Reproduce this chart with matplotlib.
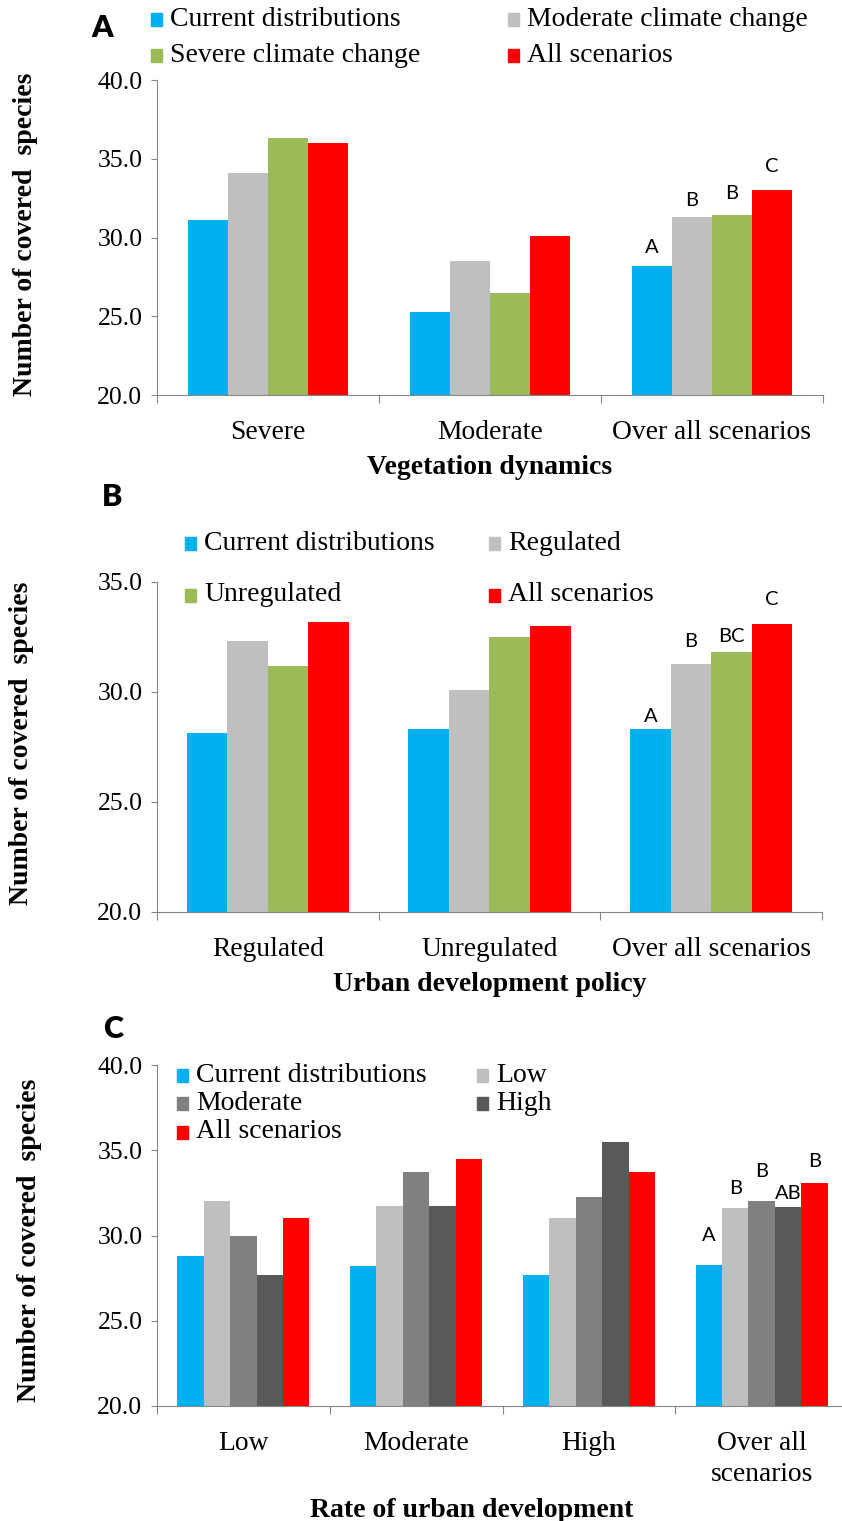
import numpy as np
import matplotlib
matplotlib.use("Agg")
import matplotlib.pyplot as plt
from matplotlib.patches import Rectangle
from matplotlib.ticker import FormatStrFormatter, MultipleLocator

# ---------- data ----------------------------------------------------------
veg_groups = ["Severe", "Moderate", "Over all scenarios"]
veg_series = ["Current distributions", "Moderate climate change",
              "Severe climate change", "All scenarios"]
veg_values = [
    [31.1, 25.3, 28.2],   # current distributions
    [34.1, 28.5, 31.3],   # moderate climate change
    [36.3, 26.5, 31.4],   # severe climate change
    [36.0, 30.1, 33.0],   # all scenarios
]
veg_letters = ["A", "B", "B", "C"]

policy_groups = ["Regulated", "Unregulated", "Over all scenarios"]
policy_series = ["Current distributions", "Regulated", "Unregulated",
                 "All scenarios"]
policy_values = [
    [28.15, 28.3, 28.3],
    [32.3, 30.1, 31.25],
    [31.2, 32.5, 31.8],
    [33.2, 33.0, 33.1],
]
policy_letters = ["A", "B", "BC", "C"]

rate_groups = ["Low", "Moderate", "High", "Over all\nscenarios"]
rate_series = ["Current distributions", "Low", "Moderate", "High",
               "All scenarios"]
rate_values = [
    [28.8, 28.2, 27.7, 28.25],
    [32.0, 31.75, 31.0, 31.6],
    [30.0, 33.75, 32.25, 32.0],
    [27.7, 31.75, 35.5, 31.65],
    [31.0, 34.5, 33.75, 33.1],
]
rate_letters = ["A", "B", "B", "AB", "B"]

# ---------- style / layout -------------------------------------------------
W, H = 842, 1521
SERIF = "Liberation Serif"
SANS = "Lato"
AXIS_GREY = "#868686"
col_veg = ["#00B0F0", "#BFBFBF", "#9BBB59", "#FF0000"]
col_rate = ["#00B0F0", "#BFBFBF", "#808080", "#595959", "#FF0000"]

plt.rcParams["font.family"] = [SERIF, "DejaVu Serif"]

fig = plt.figure(figsize=(W / 100, H / 100), dpi=100)


def px_axes(left, right, top, bottom):
    return fig.add_axes([left / W, 1 - bottom / H, (right - left) / W,
                         (bottom - top) / H])


def fig_pt(x, y):
    return x / W, 1 - y / H


def draw_panel(ax, groups, values, colors, bar_w, ylim, letters, letter_dy,
               ylabel, xlabel, xlabel_pos, ylabel_pos):
    n = len(values)
    x = np.arange(len(groups))
    for j, (vals, c) in enumerate(zip(values, colors)):
        ax.bar(x + (j - (n - 1) / 2) * bar_w, np.array(vals) - ylim[0],
               bottom=ylim[0], width=bar_w, color=c, edgecolor="none")
    # significance letters over the last group
    last = len(groups) - 1
    for j, (lab, dy) in enumerate(zip(letters, letter_dy)):
        ax.annotate(lab, (last + (j - (n - 1) / 2) * bar_w, values[j][last]),
                    xytext=(0, dy), textcoords="offset pixels",
                    ha="center", va="center", fontsize=14.5, family=SANS,
                    annotation_clip=False)
    ax.set_xlim(-0.5, len(groups) - 0.5)
    ax.set_ylim(*ylim)
    ax.set_xticks(x)
    ax.set_xticklabels(groups, fontsize=19.8, linespacing=1.3)
    ax.set_xticks(np.arange(len(groups) + 1) - 0.5, minor=True)
    ax.tick_params(axis="x", which="major", length=0, pad=18)
    ax.tick_params(axis="x", which="minor", length=6, color=AXIS_GREY,
                   width=0.8)
    ax.yaxis.set_major_locator(MultipleLocator(5))
    ax.yaxis.set_major_formatter(FormatStrFormatter("%.1f"))
    ax.tick_params(axis="y", length=4.5, color=AXIS_GREY, width=0.8, pad=6,
                   labelsize=18.5)
    for s in ("top", "right"):
        ax.spines[s].set_visible(False)
    for s in ("left", "bottom"):
        ax.spines[s].set_color(AXIS_GREY)
        ax.spines[s].set_linewidth(0.8)
    ax.set_ylabel(ylabel, fontsize=20, fontweight="bold", va="center")
    ax.yaxis.set_label_coords(*ylabel_pos)
    ax.set_xlabel(xlabel, fontsize=20, fontweight="bold", va="center")
    ax.xaxis.set_label_coords(*xlabel_pos)


def draw_legend(series, colors, col_x, row_y):
    for i, (name, c) in enumerate(zip(series, colors)):
        px, py = col_x[i % 2], row_y[i // 2]
        fx, fy = fig_pt(px, py + 6.5)
        fig.patches.append(Rectangle((fx, fy), 11 / W, 13 / H, color=c,
                                     transform=fig.transFigure, figure=fig))
        tx, ty = fig_pt(px + 19, py)
        fig.text(tx, ty, name, fontsize=20, ha="left", va="center")


def panel_letter(x, y, s):
    fx, fy = fig_pt(x, y)
    fig.text(fx, fy, s, fontsize=22, family=SANS, fontweight="heavy",
             ha="center", va="center")


# ---------- panel A --------------------------------------------------------
axA = px_axes(157, 823, 80, 395)
draw_panel(axA, veg_groups, veg_values, col_veg, 0.180, (20, 40),
           veg_letters, [18, 17, 22, 24],
           "Number of covered  species", "Vegetation dynamics",
           (0.5, -0.23), (-0.197, 0.51))
draw_legend(veg_series, col_veg, [151, 508], [19.5, 55])
panel_letter(102, 28, "A")

# ---------- panel B --------------------------------------------------------
axB = px_axes(157, 822, 582, 912)
draw_panel(axB, policy_groups, policy_values, col_veg, 0.183, (20, 35),
           policy_letters, [13, 23, 16, 24],
           "Number of covered  species", "Urban development policy",
           (0.5, -0.22), (-0.2045, 0.512))
draw_legend(policy_series, col_veg, [185, 489], [543, 595])
panel_letter(112, 497, "B")

# ---------- panel C --------------------------------------------------------
axC = px_axes(157, 848, 1065, 1406)
draw_panel(axC, rate_groups, rate_values, col_rate, 0.153, (20, 40),
           rate_letters, [30, 20, 30, 14, 21],
           "Number of covered  species", "Rate of urban development",
           (0.456, -0.305), (-0.184, 0.487))
draw_legend(rate_series, col_rate, [177, 477], [1075, 1103, 1132])
panel_letter(113, 1029, "C")

fig.savefig("out.png", dpi=100)
